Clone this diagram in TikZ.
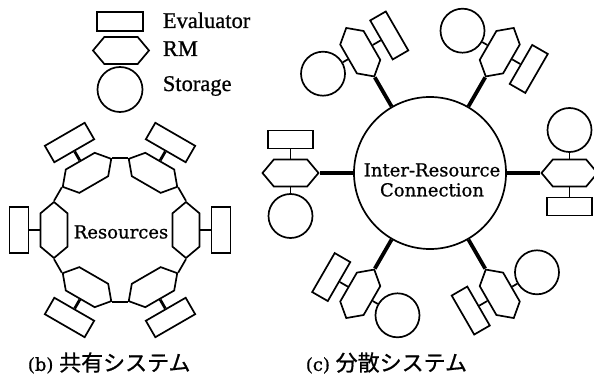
\documentclass[tikz,border=0pt]{standalone}
\usepackage{fontspec}
\setmainfont[FakeBold=0.8,AutoFakeBold=0.8]{DejaVu Serif}
\newfontfamily\legfont[FakeBold=0.8,AutoFakeBold=0.8]{Liberation Serif}
\newfontfamily\cjk[FakeBold=0.8,AutoFakeBold=0.8]{Noto Sans CJK JP}
\usetikzlibrary{shapes.symbols}
\begin{document}
\begin{tikzpicture}[x=1pt,y=1pt,
  line width=1.7pt,
  txt/.style={font=\fontsize{18}{20}\selectfont, inner sep=0pt},
  legtxt/.style={font=\legfont\fontsize{22.5}{24}\selectfont, inner sep=0pt},
  evalbox/.style={draw, line width=1.7pt, rectangle, inner sep=0pt, minimum width=46pt, minimum height=19pt},
  rmhex/.style={draw, line width=1.7pt, shape=signal, signal to=east and west, signal pointer angle=100, inner sep=0pt, minimum width=56pt, minimum height=27pt},
  storecirc/.style={draw, line width=1.7pt, circle, inner sep=0pt, minimum size=45pt},
  bigcirc/.style={draw, line width=1.7pt, circle, inner sep=0pt, minimum size=152pt},
  thickcon/.style={line width=3.8pt},
  midcon/.style={line width=2.8pt},
  ringcon/.style={line width=1.7pt}
]
\useasboundingbox (0,0) rectangle (594,-382);

% legend
\node[evalbox] (legE) at (120,-21.5) {};
\node[rmhex] (legR) at (121,-50.5) {};
\node[storecirc] (legS) at (120,-89.5) {};
\node[legtxt, anchor=base west] (legEt) at (162,-28) {Evaluator};
\node[legtxt, anchor=base west] (legRt) at (162,-56) {RM};
\node[legtxt, anchor=base west] (legSt) at (162,-91) {Storage};

% (b) shared system
\node[txt] (res) at (121,-232) {Resources};
\begin{scope}[shift={(120,-230)}]
\foreach \a/\n in {0/0,60/1,120/2,180/3,240/4,300/5}{
  \begin{scope}[rotate=\a]
    \node[rmhex, rotate=\a+90] (b\n) at (66,0) {};
    \node[evalbox, rotate=\a+90] (be\n) at (101,0) {};
  \end{scope}
  \draw[midcon] (b\n) -- (be\n);
}
\end{scope}
\foreach \i/\j in {0/1,1/2,2/3,3/4,4/5,5/0}{
  \draw[ringcon] (b\i.east) -- (b\j.west);
}

% (c) distributed system
\node[bigcirc] (irc) at (430,-173) {};
\node[txt, align=center] (irct) at (432,-180) {Inter-Resource\\Connection};
\begin{scope}[shift={(430,-173)}]
\foreach \a/\n in {0/0,60/1,120/2,180/3,240/4,300/5}{
  \begin{scope}[rotate=\a]
    \node[rmhex, rotate=\a] (c\n) at (139.5,0) {};
    \node[evalbox, minimum width=45pt, minimum height=18pt, rotate=\a] (ce\n) at (139.5,-33.5) {};
    \node[storecirc, minimum size=44pt] (cs\n) at (139.5,43) {};
  \end{scope}
}
\end{scope}
\foreach \n in {0,...,5}{
  \draw[thickcon] (irc) -- (c\n);
  \draw (c\n) -- (ce\n);
  \draw (c\n) -- (cs\n);
}

% captions
\node[anchor=west, inner sep=0pt] (capb) at (27,-363) {{\fontsize{18}{20}\selectfont (b) }{\cjk\fontsize{22}{24}\selectfont 共有システム}};
\node[anchor=west, inner sep=0pt] (capc) at (305,-363) {{\fontsize{18}{20}\selectfont (c) }{\cjk\fontsize{22}{24}\selectfont 分散システム}};
\end{tikzpicture}
\end{document}
